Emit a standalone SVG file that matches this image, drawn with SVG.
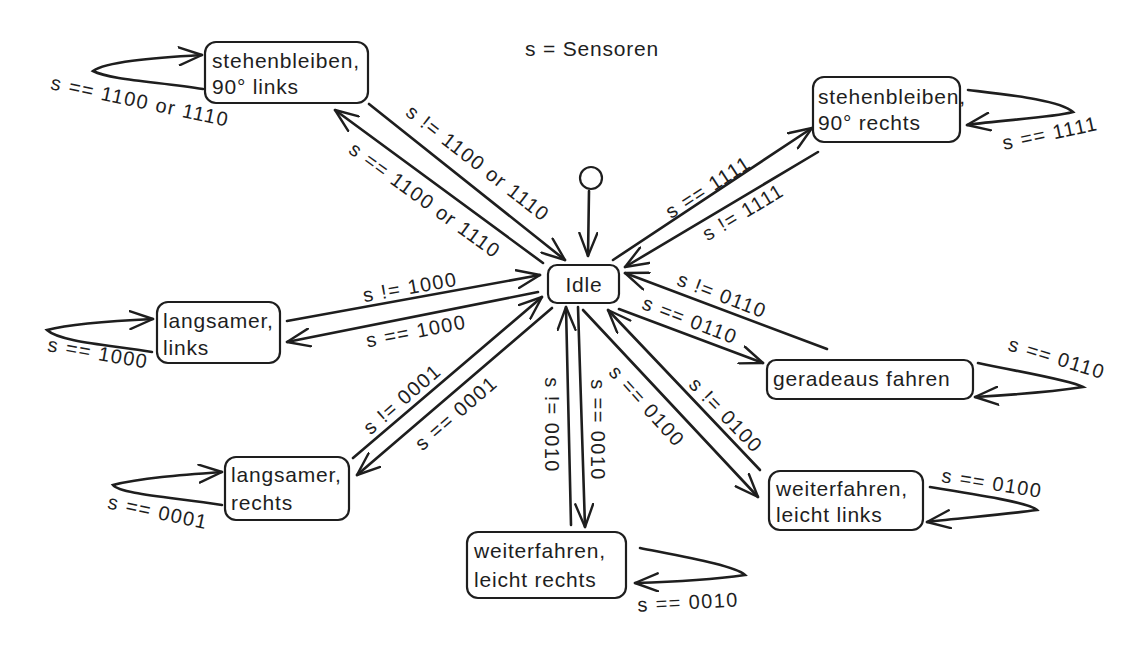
<svg xmlns="http://www.w3.org/2000/svg" width="1147" height="656" viewBox="0 0 1147 656">
<style>
.box{fill:#fff;stroke:#1e1e1e;stroke-width:2.2}
.t{font-family:"Liberation Sans",Arial,sans-serif;font-size:21px;letter-spacing:0.8px;fill:#1e1e1e}
.l{font-family:"Liberation Sans",Arial,sans-serif;font-size:20px;letter-spacing:1.4px;fill:#1e1e1e;text-anchor:middle;dominant-baseline:central}
.c{fill:none;stroke:#1e1e1e;stroke-width:2.6;stroke-linecap:round;marker-end:url(#ah)}
</style>
<defs>
<marker id="ah" viewBox="0 0 26 20" refX="24" refY="10" markerWidth="26" markerHeight="20" markerUnits="userSpaceOnUse" orient="auto">
<path d="M1,1 L24,10 L1,19" fill="none" stroke="#1e1e1e" stroke-width="2.4" stroke-linecap="round" stroke-linejoin="round"/>
</marker>
</defs>
<rect width="1147" height="656" fill="#fff"/>
<text class="t" x="525" y="56" font-size="19" letter-spacing="1.2">s = Sensoren</text>
<g id="connectors">
<path class="c" d="M203,89 C160,82 110,80 93,71 C105,62 150,58 202,55"/>
<path class="c" d="M369,104 L565,260"/>
<path class="c" d="M543,263 L335,110"/>
<path class="c" d="M613,260 L812,128"/>
<path class="c" d="M818,152 L625,267"/>
<path class="c" d="M968,90 C1010,95 1060,100 1073,112 C1050,118 1000,120 967,125"/>
<path class="c" d="M589,191 L588,256"/>
<path class="c" d="M287,321 L540,275"/>
<path class="c" d="M538,292 L287,342"/>
<path class="c" d="M152,352 C110,345 60,342 47,330 C70,324 110,321 153,319"/>
<path class="c" d="M353,458 L542,297"/>
<path class="c" d="M552,308 L357,475"/>
<path class="c" d="M222,505 C170,497 120,494 113,485 C140,478 180,475 222,472"/>
<path class="c" d="M571,525 L566,307"/>
<path class="c" d="M578,307 L585,527"/>
<path class="c" d="M583,310 L758,497"/>
<path class="c" d="M760,470 L608,310"/>
<path class="c" d="M930,487 C980,495 1030,503 1037,510 C1000,515 960,518 927,522"/>
<path class="c" d="M827,349 L625,273"/>
<path class="c" d="M619,309 L763,363"/>
<path class="c" d="M978,363 C1020,372 1070,380 1083,387 C1050,392 1010,395 975,397"/>
<path class="c" d="M640,548 C690,558 735,566 745,575 C710,580 670,582 635,583"/>
<text class="l" transform="translate(140,101) rotate(12)">s == 1100 or 1110</text>
<text class="l" transform="translate(478,163) rotate(38)">s != 1100 or 1110</text>
<text class="l" transform="translate(425,200) rotate(36)">s == 1100 or 1110</text>
<text class="l" transform="translate(708,187) rotate(-33)">s == 1111</text>
<text class="l" transform="translate(743,212) rotate(-31)">s != 1111</text>
<text class="l" transform="translate(1050,133) rotate(-12)">s == 1111</text>
<text class="l" transform="translate(410,287) rotate(-10)">s != 1000</text>
<text class="l" transform="translate(416,331) rotate(-11)">s == 1000</text>
<text class="l" transform="translate(98,353) rotate(10)">s == 1000</text>
<text class="l" transform="translate(402,399) rotate(-41)">s != 0001</text>
<text class="l" transform="translate(456,413) rotate(-41)">s == 0001</text>
<text class="l" transform="translate(158,512) rotate(12)">s == 0001</text>
<text class="l" transform="translate(552,425) rotate(90)">s != 0010</text>
<text class="l" transform="translate(598,430) rotate(90)">s == 0010</text>
<text class="l" transform="translate(688,602) rotate(-3)">s == 0010</text>
<text class="l" transform="translate(647,406) rotate(48)">s == 0100</text>
<text class="l" transform="translate(726,415) rotate(46)">s != 0100</text>
<text class="l" transform="translate(992,483) rotate(9)">s == 0100</text>
<text class="l" transform="translate(722,295) rotate(21)">s != 0110</text>
<text class="l" transform="translate(690,320) rotate(21)">s == 0110</text>
<text class="l" transform="translate(1057,358) rotate(17)">s == 0110</text>
</g>
<g id="initial"><circle cx="591" cy="178" r="11" fill="#fff" stroke="#1e1e1e" stroke-width="2.2"/></g>
<g id="idle"><rect class="box" x="548" y="265" width="71" height="38" rx="9"/><text class="t" x="584" y="292" text-anchor="middle">Idle</text></g>
<g id="stop-links"><rect class="box" x="205" y="42" width="163" height="61" rx="11"/><text class="t" x="212" y="68">stehenbleiben,</text><text class="t" x="212" y="94">90° links</text></g>
<g id="stop-rechts"><rect class="box" x="813" y="77" width="147" height="65" rx="11"/><text class="t" x="818" y="104" letter-spacing="0.2">stehenbleiben,</text><text class="t" x="818" y="130">90° rechts</text></g>
<g id="langsam-links"><rect class="box" x="157" y="302" width="123" height="61" rx="11"/><text class="t" x="163" y="328">langsamer,</text><text class="t" x="163" y="355">links</text></g>
<g id="langsam-rechts"><rect class="box" x="225" y="457" width="124" height="63" rx="11"/><text class="t" x="231" y="482">langsamer,</text><text class="t" x="231" y="510">rechts</text></g>
<g id="geradeaus"><rect class="box" x="767" y="360" width="206" height="39" rx="9"/><text class="t" x="773" y="386" letter-spacing="1.6">geradeaus fahren</text></g>
<g id="weiter-links"><rect class="box" x="769" y="471" width="154" height="59" rx="11"/><text class="t" x="776" y="496">weiterfahren,</text><text class="t" x="776" y="522">leicht links</text></g>
<g id="weiter-rechts"><rect class="box" x="467" y="532" width="159" height="66" rx="11"/><text class="t" x="474" y="558">weiterfahren,</text><text class="t" x="474" y="587">leicht rechts</text></g>
</svg>
